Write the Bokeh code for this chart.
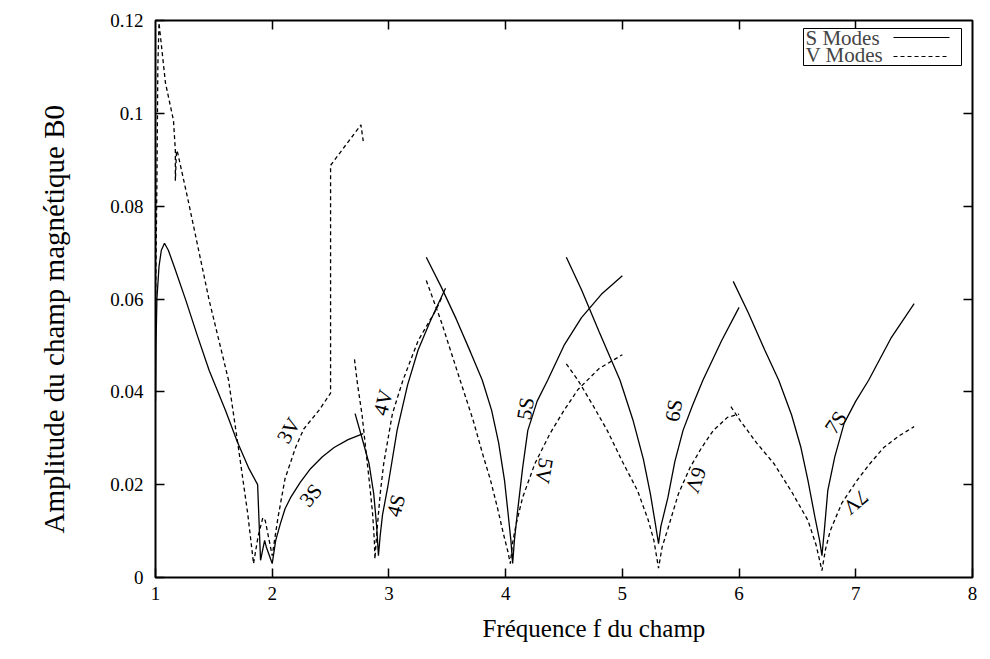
from bokeh.plotting import figure
from bokeh.models import Range1d, LinearAxis, FixedTicker, Label, BoxAnnotation, Arrow, ColumnDataSource, Title
from bokeh.core.properties import value
from bokeh.embed import file_html
from bokeh.resources import INLINE

FONT = "Liberation Serif"

# ---- data ----
x_ticks = [1, 2, 3, 4, 5, 6, 7, 8]
y_ticks = [0, 0.02, 0.04, 0.06, 0.08, 0.1, 0.12]
y_tick_labels = ["0", "0.02", "0.04", "0.06", "0.08", "0.1", "0.12"]

# S modes (solid)
s_low_x = [1.0, 1.004, 1.012, 1.03, 1.05, 1.077, 1.11, 1.16, 1.26, 1.36, 1.46, 1.6, 1.7, 1.8, 1.875,
           1.90, 1.935, 1.95, 2.0, 2.03, 2.07, 2.11, 2.157, 2.24, 2.33, 2.43, 2.53, 2.65, 2.78]
s_low_y = [0.038, 0.05, 0.06, 0.067, 0.0705, 0.072, 0.0705, 0.067, 0.0597, 0.052, 0.0446, 0.036, 0.0293, 0.0235, 0.020,
           0.0037, 0.008, 0.0065, 0.003, 0.008, 0.0116, 0.0148, 0.0172, 0.0205, 0.0235, 0.026, 0.028, 0.0297, 0.031]
s4_x = [2.71, 2.77, 2.83, 2.87, 2.895, 2.91, 2.925, 2.945, 2.99, 3.07, 3.16, 3.25, 3.35, 3.42, 3.485]
s4_y = [0.0353, 0.030, 0.0245, 0.018, 0.011, 0.0047, 0.009, 0.0135, 0.0195, 0.0317, 0.0415, 0.049, 0.055, 0.0588, 0.0623]
s5_x = [3.32, 3.45, 3.58, 3.70, 3.80, 3.88, 3.94, 3.99, 4.02, 4.045, 4.06, 4.075, 4.10, 4.145, 4.19, 4.27, 4.36,
        4.5, 4.65, 4.82, 5.0]
s5_y = [0.069, 0.0625, 0.0555, 0.0485, 0.0425, 0.036, 0.029, 0.021, 0.014, 0.008, 0.003, 0.008, 0.0138, 0.0235,
        0.0317, 0.038, 0.0425, 0.050, 0.056, 0.061, 0.065]
s6_x = [4.52, 4.65, 4.80, 4.98, 5.09, 5.18, 5.24, 5.28, 5.31, 5.33, 5.39, 5.45, 5.52, 5.60, 5.69, 5.85, 6.0]
s6_y = [0.069, 0.062, 0.053, 0.0425, 0.034, 0.0255, 0.018, 0.012, 0.0073, 0.011, 0.0172, 0.025, 0.0317, 0.037,
        0.0425, 0.051, 0.0582]
s7_x = [5.95, 6.08, 6.22, 6.34, 6.45, 6.53, 6.59, 6.65, 6.69, 6.71, 6.73, 6.76, 6.82, 6.9, 7.0, 7.11, 7.3, 7.5]
s7_y = [0.0638, 0.057, 0.049, 0.0425, 0.035, 0.028, 0.0209, 0.013, 0.008, 0.0047, 0.010, 0.0187, 0.026, 0.0332,
        0.038, 0.0425, 0.0515, 0.059]

# V modes (dashed)
v_low_x = [1.0, 1.012, 1.02, 1.03, 1.085, 1.154, 1.17, 1.17, 1.18, 1.19, 1.28, 1.46, 1.626, 1.71, 1.79, 1.84,
           1.88, 1.92, 1.94, 2.0, 2.05, 2.11, 2.2, 2.27, 2.4, 2.5, 2.5, 2.76, 2.78]
v_low_y = [0.058, 0.085, 0.11, 0.1195, 0.1066, 0.0985, 0.092, 0.0855, 0.092, 0.0915, 0.0812, 0.0597, 0.0425, 0.028,
           0.0138, 0.003, 0.009, 0.0129, 0.0123, 0.0047, 0.013, 0.0213, 0.028, 0.032, 0.036, 0.0397, 0.0888, 0.0975, 0.094]
v4_x = [2.705, 2.73, 2.77, 2.80, 2.835, 2.86, 2.875, 2.88, 2.89, 2.90, 2.925, 2.955, 3.0, 3.03, 3.12, 3.25, 3.33,
        3.40, 3.46]
v4_y = [0.047, 0.0418, 0.035, 0.028, 0.020, 0.0138, 0.008, 0.004, 0.0075, 0.0108, 0.018, 0.0245, 0.031, 0.0353,
        0.0425, 0.051, 0.0545, 0.0575, 0.0607]
v5_x = [3.32, 3.45, 3.61, 3.72, 3.81, 3.87, 3.93, 3.98, 4.02, 4.04, 4.06, 4.09, 4.145, 4.25, 4.38, 4.5, 4.62, 4.8, 5.0]
v5_y = [0.064, 0.055, 0.0425, 0.034, 0.026, 0.021, 0.015, 0.0095, 0.0055, 0.003, 0.0075, 0.0115, 0.0172, 0.0245,
        0.031, 0.036, 0.0405, 0.045, 0.048]
v6_x = [4.52, 4.62, 4.75, 4.87, 5.0, 5.13, 5.22, 5.27, 5.31, 5.34, 5.39, 5.48, 5.58, 5.68, 5.78, 5.9, 6.0]
v6_y = [0.046, 0.0425, 0.037, 0.0317, 0.025, 0.0187, 0.0125, 0.008, 0.002, 0.0065, 0.0105, 0.018, 0.0237, 0.028,
        0.0317, 0.0345, 0.0352]
v7_x = [5.93, 6.01, 6.15, 6.30, 6.45, 6.59, 6.66, 6.71, 6.74, 6.78, 6.88, 7.01, 7.12, 7.24, 7.37, 7.5]
v7_y = [0.0368, 0.0338, 0.029, 0.0245, 0.0185, 0.0123, 0.007, 0.0015, 0.006, 0.010, 0.016, 0.0209, 0.0245, 0.028,
        0.0305, 0.0325]

# mode annotations
mode_text = ["3V", "3S", "4V", "4S", "5S", "5V", "6S", "6V", "7S", "7V"]
mode_x = [2.14, 2.33, 2.95, 3.06, 4.17, 4.33, 5.44, 5.63, 6.83, 7.0]
mode_y = [0.0317, 0.0177, 0.0377, 0.0155, 0.0364, 0.023, 0.036, 0.021, 0.0334, 0.0162]
mode_angle = [60, 50, 75, 75, 80, 260, 80, 250, 55, 220]

x_title = "Fréquence f du champ"
y_title = "Amplitude du champ magnétique B0"

# ---- layout constants (pixels) ----
W, H = 990, 659
FL, FT, FR, FB = 155, 20, 972, 577   # frame edges


def sx(px):
    return px - FL


def sy(py):
    return FB - py


p = figure(width=W, height=H, output_backend="svg", toolbar_location=None,
           x_range=Range1d(1, 8), y_range=Range1d(0, 0.12),
           min_border_left=FL, min_border_right=W - FR, min_border_top=FT, min_border_bottom=H - FB)
p.grid.visible = False
p.outline_line_color = "black"
p.outline_line_width = 2
p.background_fill_color = "white"
p.border_fill_color = "white"


def style_axis(ax):
    ax.axis_line_color = None
    ax.major_tick_in = 9
    ax.major_tick_out = 0
    ax.major_tick_line_color = "black"
    ax.major_tick_line_width = 1.5
    ax.minor_tick_line_color = None
    ax.major_label_text_font = FONT
    ax.major_label_text_font_size = "19px"
    ax.major_label_text_color = "black"


xa = p.xaxis[0]
xa.ticker = FixedTicker(ticks=x_ticks)
style_axis(xa)
xa.major_label_standoff = 9

ya = p.yaxis[0]
ya.ticker = FixedTicker(ticks=y_ticks)
ya.major_label_overrides = {t: l for t, l in zip(y_ticks, y_tick_labels)}
style_axis(ya)
ya.major_label_standoff = 12

top_ax = LinearAxis(ticker=FixedTicker(ticks=x_ticks[1:-1]), major_label_standoff=0)
style_axis(top_ax)
top_ax.major_label_overrides = {t: "" for t in x_ticks}
p.add_layout(top_ax, "above")
right_ax = LinearAxis(ticker=FixedTicker(ticks=y_ticks[1:-1]), major_label_standoff=0)
style_axis(right_ax)
right_ax.major_label_overrides = {t: "" for t in y_ticks}
p.add_layout(right_ax, "right")

# axis titles as side-panel titles (exact placement along the frame)
p.add_layout(Title(text=x_title, align="left", offset=327, vertical_align="middle", standoff=23,
                   text_font=FONT, text_font_size="25px", text_font_style="normal", text_color="black"), "below")
p.add_layout(Title(text=y_title, align="left", offset=44, vertical_align="top", standoff=71,
                   text_font=FONT, text_font_size="29px", text_font_style="normal", text_color="black"), "left")

s_segments = [(s_low_x, s_low_y), (s4_x, s4_y), (s5_x, s5_y), (s6_x, s6_y), (s7_x, s7_y)]
v_segments = [(v_low_x, v_low_y), (v4_x, v4_y), (v5_x, v5_y), (v6_x, v6_y), (v7_x, v7_y)]
for xs, ys in s_segments:
    p.line(xs, ys, line_color="black", line_width=1.3)
for xs, ys in v_segments:
    p.line(xs, ys, line_color="black", line_width=1.3, line_dash="4 3")

src = ColumnDataSource(dict(x=mode_x, y=mode_y, t=mode_text, a=mode_angle))
p.text(x="x", y="y", text="t", angle="a", angle_units="deg", source=src,
       text_font=value(FONT), text_font_size="21px", text_color="black",
       text_align="center", text_baseline="middle")

# legend (label left, sample right)
p.add_layout(BoxAnnotation(left=sx(803), right=sx(961), top=sy(28), bottom=sy(65),
                           left_units="screen", right_units="screen", top_units="screen", bottom_units="screen",
                           fill_color="white", fill_alpha=1, line_color="black", line_width=1, line_alpha=1))
p.add_layout(Label(x=sx(805), y=sy(37), x_units="screen", y_units="screen", text="S Modes",
                   text_font=FONT, text_font_size="21px", text_baseline="middle"))
p.add_layout(Label(x=sx(805), y=sy(54), x_units="screen", y_units="screen", text="V Modes",
                   text_font=FONT, text_font_size="21px", text_baseline="middle"))
p.add_layout(Arrow(x_start=sx(893), y_start=sy(37), x_end=sx(949), y_end=sy(37),
                   start_units="screen", end_units="screen", start=None, end=None,
                   line_color="black", line_width=1.2))
p.add_layout(Arrow(x_start=sx(893), y_start=sy(56), x_end=sx(949), y_end=sy(56),
                   start_units="screen", end_units="screen", start=None, end=None,
                   line_color="black", line_width=1.2, line_dash="4 3"))

open("out.html", "w").write(file_html(p, INLINE))
